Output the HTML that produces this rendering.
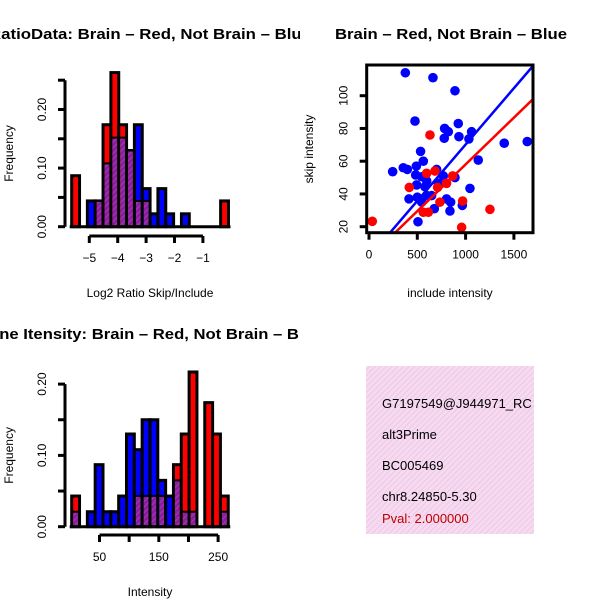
<!DOCTYPE html>
<html><head><meta charset="utf-8">
<style>
html,body{margin:0;padding:0;background:#fff;}
svg{display:block;font-family:"Liberation Sans",sans-serif;}
</style></head>
<body>
<svg id="c" width="600" height="600" viewBox="0 0 600 600" xmlns="http://www.w3.org/2000/svg">
<defs>
<pattern id="hatch" width="4" height="4" patternUnits="userSpaceOnUse" patternTransform="rotate(45)">
<rect width="4" height="4" fill="#8a1f9e"/>
<line x1="0" y1="0" x2="0" y2="4" stroke="#b03ec0" stroke-width="1.5"/>
</pattern>
<pattern id="pinkhatch" width="4" height="4" patternUnits="userSpaceOnUse" patternTransform="rotate(45)">
<rect width="4" height="4" fill="#f8d8f2"/>
<line x1="0" y1="0" x2="0" y2="4" stroke="#dcc8d4" stroke-width="1.3"/>
</pattern>
<clipPath id="clipL"><rect x="0" y="0" width="300" height="600"/></clipPath>
<clipPath id="clipInfo"><rect x="366" y="366" width="168" height="168"/></clipPath>
</defs>
<g clip-path="url(#clipL)">
<text x="150" y="39" text-anchor="middle" font-size="15" font-weight="bold" textLength="322" lengthAdjust="spacingAndGlyphs">RatioData: Brain – Red, Not Brain – Blue</text>
<text x="150" y="339" text-anchor="middle" font-size="15" font-weight="bold" textLength="346" lengthAdjust="spacingAndGlyphs">Gene Itensity: Brain – Red, Not Brain – Blue</text>
</g>
<text x="451" y="39" text-anchor="middle" font-size="15" font-weight="bold" textLength="232" lengthAdjust="spacingAndGlyphs">Brain – Red, Not Brain – Blue</text>
<g id="h1"></g>
<g id="h2"></g>
<g id="sc"></g>
<g clip-path="url(#clipInfo)">
<rect x="366" y="366" width="168" height="168" fill="url(#pinkhatch)"/>
<text x="382" y="408" font-size="13">G7197549@J944971_RC</text>
<text x="382" y="439" font-size="13">alt3Prime</text>
<text x="382" y="470" font-size="13">BC005469</text>
<text x="382" y="501" font-size="13">chr8.24850-5.30</text>
<text x="382" y="523" font-size="13" fill="#c00000">Pval: 2.000000</text>
</g>
</svg>
<script>
// Ratio histogram data (20 bins)
const ratioBinStart = -5.62;
const ratioBinWidth = 0.276;
const ratioRed  = [0.087,0,0,0.044,0.174,0.263,0.174,0.13,0.044,0.044,0,0,0,0,0,0,0,0,0,0.044];
const ratioBlue = [0,0,0.044,0.044,0.108,0.152,0.152,0.13,0.174,0.065,0.022,0.065,0.022,0,0.022,0,0,0,0,0];
const ratioXTicks = [-5,-4,-3,-2,-1];
const ratioYTicks = [0,0.05,0.10,0.15,0.20,0.25];
const ratioYLabels = ["0.00","","0.10","","0.20",""];
// Intensity histogram data (20 bins)
const intBinStart = 3.1;
const intBinWidth = 13.2;
const intRed  = [0.043,0,0,0,0,0,0,0,0.043,0.043,0.043,0.043,0,0.087,0.13,0.217,0,0.174,0.13,0.043];
const intBlue = [0.021,0,0.021,0.087,0.021,0.021,0.043,0.13,0.108,0.15,0.15,0.065,0.043,0.065,0.021,0.021,0,0,0,0.021];
const intXTicks = [50,100,150,200,250];
const intXLabels = ["50","","150","","250"];
const intYTicks = [0,0.05,0.10,0.15,0.20];
const intYLabels = ["0.00","","0.10","","0.20"];
// Scatter data
const blueX = [376,662,890,476,783,821,779,924,931,1062,1034,1131,1400,1638,534,562,245,355,397,490,700,483,545,597,769,890,493,579,717,1045,414,500,597,545,803,845,676,838,966,507,648];
const blueY = [114,111,103,84.5,80,78,74,83,75,78,73.6,60.7,71,72,66,60,53.6,56,55,57,55,51.6,50.5,48,51,50,45.5,44.4,46.5,43.4,37,38,39,35,37,35,31,29.6,33,23,39];
const redX = [34,631,417,597,683,710,734,562,614,866,969,1252,959,803];
const redY = [23.3,76,44,52.6,54,44,35,28.8,28.8,51,35.7,30.6,19.6,46.5];
const blueFit = [1.37,0.0688];
const redFit = [0.94,0.0571];
const scXTicks = [0,500,1000,1500];
const scYTicks = [20,40,60,80,100];

const NS="http://www.w3.org/2000/svg";
function mk(parent,tag,attrs,txt){const e=document.createElementNS(NS,tag);for(const k in attrs)e.setAttribute(k,attrs[k]);if(txt!==undefined)e.textContent=txt;parent.appendChild(e);return e;}

function hist(g,start,w,red,blue,xTicks,xLabels,yTicks,yLabels,px0,pxPerUnit,py0,pyPer,xTitle,axisY,axisX,prefix){
  const X=v=>px0+(v-start)*pxPerUnit;
  const Y=v=>py0-v*pyPer;
  for(let i=0;i<red.length;i++){
    const x0=X(start+i*w), x1=X(start+(i+1)*w);
    const r=red[i], b=blue[i], m=Math.min(r,b), mx=Math.max(r,b);
    if(mx<=0) continue;
    const top=mk(g,'rect',{x:x0,y:Y(mx),width:x1-x0,height:Y(0)-Y(mx),fill:r>=b?'#ff0000':'#0000ff',stroke:'#000','stroke-width':3});
    
    
    if(m>0){
      const ov=mk(g,'rect',{x:x0+1.5,y:Y(m),width:x1-x0-3,height:Y(0)-Y(m)-1.5,fill:'url(#hatch)'});
      
      
      mk(g,'line',{x1:x0,x2:x1,y1:Y(m),y2:Y(m),stroke:'#000','stroke-width':2});
    }
  }
  const bl=mk(g,'line',{x1:X(start)-2,x2:X(start+red.length*w)+2,y1:Y(0),y2:Y(0),stroke:'#000','stroke-width':3});
  
  
  const xa=mk(g,'g',{});
  
  
  mk(xa,'line',{x1:X(xTicks[0]),x2:X(xTicks[xTicks.length-1]),y1:axisY,y2:axisY,stroke:'#000','stroke-width':3});
  xTicks.forEach((t,i)=>{
    mk(xa,'line',{x1:X(t),x2:X(t),y1:axisY,y2:axisY+7,stroke:'#000','stroke-width':3});
    if(xLabels[i]){const tl=mk(xa,'text',{x:X(t),y:axisY+26,'text-anchor':'middle','font-size':12},xLabels[i]);
      
      }
  });
  const xt=mk(g,'text',{x:150,y:axisY+61,'text-anchor':'middle','font-size':12},xTitle);
  
  
  const ya=mk(g,'g',{});
  
  
  mk(ya,'line',{x1:axisX,x2:axisX,y1:Y(yTicks[0]),y2:Y(yTicks[yTicks.length-1]),stroke:'#000','stroke-width':3});
  yTicks.forEach((t,i)=>{
    mk(ya,'line',{x1:axisX-7,x2:axisX,y1:Y(t),y2:Y(t),stroke:'#000','stroke-width':3});
    if(yLabels[i]){const tl=mk(ya,'text',{x:axisX-19,y:Y(t),'text-anchor':'middle','font-size':12,transform:`rotate(-90 ${axisX-19} ${Y(t)})`},yLabels[i]);
      
      }
  });
  const yt=mk(g,'text',{x:13,y:(py0+Y(yTicks[yTicks.length-1]))/2,'text-anchor':'middle','font-size':12,transform:`rotate(-90 13 ${(py0+Y(yTicks[yTicks.length-1]))/2})`},'Frequency');
  
  
}
hist(document.getElementById('h1'),ratioBinStart,ratioBinWidth,ratioRed,ratioBlue,ratioXTicks,["−5","−4","−3","−2","−1"],ratioYTicks,ratioYLabels,71.7,28.4,226.7,586,'Log2 Ratio Skip/Include',236,65,'ratio');
hist(document.getElementById('h2'),intBinStart,intBinWidth,intRed,intBlue,intXTicks,intXLabels,intYTicks,intYLabels,71.7,0.593,526.7,713,'Intensity',535,65,'intensity');

(function(){
  const g=document.getElementById('sc');
  const L=366.7,R=533,T=65,B=232.7;
  const X=v=>369+v*0.0966;
  const Y=v=>226.7-(v-20)*1.6375;
  const clipId='scclip';
  const cp=mk(document.querySelector('defs'),'clipPath',{id:clipId});
  mk(cp,'rect',{x:L,y:T,width:R-L,height:B-T});
  const pts=mk(g,'g',{'clip-path':`url(#${clipId})`});
  
  
  blueX.forEach((x,i)=>{const c=mk(pts,'circle',{cx:X(x),cy:Y(blueY[i]),r:4.8,fill:'#0000ff'});
    
    });
  redX.forEach((x,i)=>{const c=mk(pts,'circle',{cx:X(x),cy:Y(redY[i]),r:4.8,fill:'#ff0000'});
    
    });
  [[blueFit,'#0000ff','fit-line-not-brain'],[redFit,'#ff0000','fit-line-brain']].forEach(([f,col,n])=>{
    const x0=-200,x1=2000;
    const l=mk(pts,'line',{x1:X(x0),y1:Y(f[0]+f[1]*x0),x2:X(x1),y2:Y(f[0]+f[1]*x1),stroke:col,'stroke-width':2.5});
    
    
  });
  const box=mk(g,'rect',{x:L,y:T,width:R-L,height:B-T,fill:'none',stroke:'#000','stroke-width':3});
  
  
  const xa=mk(g,'g',{});
  
  
  scXTicks.forEach(t=>{
    mk(xa,'line',{x1:X(t),x2:X(t),y1:B,y2:B+7,stroke:'#000','stroke-width':3});
    const tl=mk(xa,'text',{x:X(t),y:B+26,'text-anchor':'middle','font-size':12},String(t));
    
    
  });
  const ya=mk(g,'g',{});
  
  
  scYTicks.forEach(t=>{
    mk(ya,'line',{x1:L-7,x2:L,y1:Y(t),y2:Y(t),stroke:'#000','stroke-width':3});
    const tl=mk(ya,'text',{x:L-19,y:Y(t),'text-anchor':'middle','font-size':12,transform:`rotate(-90 ${L-19} ${Y(t)})`},String(t));
    
    
  });
  const xt=mk(g,'text',{x:450,y:297,'text-anchor':'middle','font-size':12},'include intensity');
  
  
  const yt=mk(g,'text',{x:313,y:149,'text-anchor':'middle','font-size':12,transform:'rotate(-90 313 149)'},'skip intensity');
  
  
})();
</script>
</body></html>
